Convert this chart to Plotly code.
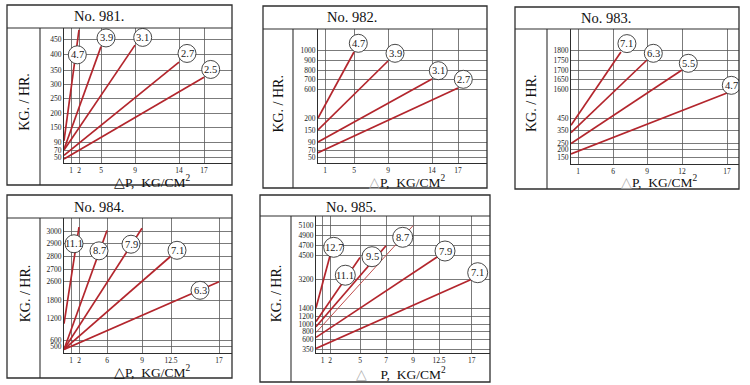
import numpy as np
import plotly.graph_objects as go

# ---------------- data ----------------
TITLES = ["No. 981.", "No. 982.", "No. 983.", "No. 984.", "No. 985."]
Y_TITLE = "KG. / HR."

X_TICKS_981 = [1, 2, 5, 9, 14, 17]
Y_TICKS_981 = [50, 70, 90, 150, 200, 250, 300, 350, 400, 450]
LABELS_981 = ["4.7", "3.9", "3.1", "2.7", "2.5"]
Y_START_981 = [95, 72, 70, 55, 44]
X_END_981 = [2, 5, 9, 14, 17]
Y_END_981 = [480, 425, 430, 375, 325]

X_TICKS_982 = [1, 5, 9, 14, 17]
Y_TICKS_982 = [50, 70, 90, 150, 200, 600, 700, 800, 900, 1000]
LABELS_982 = ["4.7", "3.9", "3.1", "2.7"]
Y_START_982 = [200, 150, 90, 62]
X_END_982 = [5, 9, 14, 17]
Y_END_982 = [980, 890, 700, 610]

X_TICKS_983 = [1, 6, 9, 12, 17]
Y_TICKS_983 = [150, 200, 250, 350, 450, 1600, 1650, 1700, 1750, 1800]
LABELS_983 = ["7.1", "6.3", "5.5", "4.7"]
Y_START_983 = [390, 330, 250, 170]
X_END_983 = [6.7, 9, 12, 17]
Y_END_983 = [1790, 1750, 1700, 1440]

X_TICKS_984 = [1, 2, 6, 9, 12.5, 17]
Y_TICKS_984 = [500, 600, 1200, 1800, 2600, 2700, 2800, 2900, 3000]
LABELS_984 = ["11.1", "8.7", "7.9", "7.1", "6.3"]
Y_START_984 = [1050, 460, 460, 460, 460]
X_END_984 = [2, 6, 9, 12.5, 17]
Y_END_984 = [3040, 3010, 3030, 2800, 2600]

X_TICKS_985 = [1, 2, 5, 7, 9, 12.5, 17]
Y_TICKS_985 = [350, 600, 800, 1000, 1200, 1400, 3200, 4500, 4700, 4900, 5100]
LABELS_985 = ["12.7", "11.1", "9.5", "8.7", "7.9", "7.1"]
Y_START_985 = [1420, 1060, 920, 760, 640, 370]
X_END_985 = [2, 5, 7, 9, 12.5, 17]
Y_END_985 = [4500, 4400, 4700, 5100, 4500, 3200]

# ---------------- layout geometry (page pixels) ----------------
W, H = 750, 385
RED = "#b3262d"
GRID = "#5a5a5a"
BORDER = "#2e2e2e"
TXT = "#222222"
SERIF = "Liberation Serif, Times New Roman, serif"

PANELS = [
    dict(title=TITLES[0], xt=X_TICKS_981, yt=Y_TICKS_981, lab=LABELS_981, ys=Y_START_981, xe=X_END_981, ye=Y_END_981,
         box=(7, 5, 232, 185), header=28, col=40, ax=64, ay=163,
         xpx=[71, 79, 101, 135, 179, 204],
         ypx=[157, 150, 142, 127.5, 113, 98.7, 84.3, 70, 54.3, 39],
         tpos=(98.7, 16), ytpos=(25, 101.7), xtpos=(151.7, 181.7), gray=False, r=9,
         off=[(-1.7, 25), (5, -8.7), (7.7, -7.7), (8, -8.7), (6.7, -7.7)]),
    dict(title=TITLES[1], xt=X_TICKS_982, yt=Y_TICKS_982, lab=LABELS_982, ys=Y_START_982, xe=X_END_982, ye=Y_END_982,
         box=(263, 6, 487, 188), header=29, col=293, ax=318, ay=163,
         xpx=[325, 354, 388, 432, 458],
         ypx=[157, 150, 142, 130, 118, 89, 79, 70, 60, 50],
         tpos=(352, 17.3), ytpos=(278.3, 103.3), xtpos=(407, 181.7), gray=True, r=9,
         off=[(4.3, -8.7), (7, -7.7), (6.3, -8.3), (5.3, -8.7)]),
    dict(title=TITLES[2], xt=X_TICKS_983, yt=Y_TICKS_983, lab=LABELS_983, ys=Y_START_983, xe=X_END_983, ye=Y_END_983,
         box=(515, 7, 739, 189), header=29, col=547, ax=571, ay=164,
         xpx=[578, 613, 647, 682, 727],
         ypx=[157, 149.5, 143.5, 130, 118, 89, 79, 70, 60, 50],
         tpos=(605.8, 18.3), ytpos=(531.7, 103.3), xtpos=(659, 181.7), gray=True, r=9,
         off=[(6, -8.4), (6.3, -6.7), (6.3, -6.7), (4.3, -7.7)]),
    dict(title=TITLES[3], xt=X_TICKS_984, yt=Y_TICKS_984, lab=LABELS_984, ys=Y_START_984, xe=X_END_984, ye=Y_END_984,
         box=(7, 195, 232, 378), header=218, col=40, ax=64, ay=353,
         xpx=[71, 79, 107, 142, 171, 219],
         ypx=[346.7, 340, 318.3, 300, 281.7, 269, 256, 243.3, 231.7],
         tpos=(99, 206.7), ytpos=(25, 293.3), xtpos=(152, 371.7), gray=False, r=9,
         off=[(-5, 16.7), (-8, 20.3), (-11, 16), (6, -5.7), (-19, 8.6)]),
    dict(title=TITLES[4], xt=X_TICKS_985, yt=Y_TICKS_985, lab=LABELS_985, ys=Y_START_985, xe=X_END_985, ye=Y_END_985,
         box=(260, 195, 490, 382), header=216, col=291, ax=316, ay=353,
         xpx=[322.7, 330, 360, 386, 413, 439, 471.7],
         ypx=[349.3, 339, 331, 324, 316, 308, 279.3, 255.7, 245.7, 235.7, 225.7],
         tpos=(351, 206.7), ytpos=(276, 293.3), xtpos=(400.7, 373.3), gray=True, r=10,
         off=[(3.7, -8.4), (-14.7, 17.7), (-14, 11), (-10.3, 11.6), (6, -4.7), (6, -6.6)]),
]


def interp_ext(v, xs, ys):
    xs = np.asarray(xs, float)
    ys = np.asarray(ys, float)
    if v < xs[0]:
        return ys[0] + (v - xs[0]) * (ys[1] - ys[0]) / (xs[1] - xs[0])
    if v > xs[-1]:
        return ys[-1] + (v - xs[-1]) * (ys[-1] - ys[-2]) / (xs[-1] - xs[-2])
    return float(np.interp(v, xs, ys))


def px(x):
    return x / W


def py(y):
    return 1 - y / H


fig = go.Figure()
shapes = []
annotations = []
layout_axes = {}

for i, p in enumerate(PANELS, start=1):
    xa = "x" if i == 1 else f"x{i}"
    ya = "y" if i == 1 else f"y{i}"
    bx0, by0, bx1, by1 = p["box"]

    xs_map = [0] + list(p["xt"])
    xp_map = [p["ax"]] + list(p["xpx"])

    def mx(v):
        return interp_ext(v, xs_map, xp_map)

    def my(v):
        return interp_ext(v, p["yt"], p["ypx"])

    # lines
    for k, lab in enumerate(p["lab"]):
        x0, y0 = mx(0), my(p["ys"][k])
        x1, y1 = mx(p["xe"][k]), my(p["ye"][k])
        thin = (i == 5 and lab == "8.7")
        fig.add_trace(go.Scatter(
            x=[x0, x1], y=[y0, y1], mode="lines", xaxis=xa, yaxis=ya,
            line=dict(color="#c0504f" if thin else RED, width=1.0 if thin else 1.7),
            hoverinfo="skip", showlegend=False))
        dx, dy = p["off"][k]
        cx, cy = x1 + dx, y1 + dy
        r = p["r"]
        shapes.append(dict(type="circle", xref=xa, yref=ya, xsizemode="pixel", ysizemode="pixel",
                           xanchor=cx, yanchor=cy, x0=-r, x1=r, y0=-r, y1=r,
                           fillcolor="white", line=dict(color="#333333", width=0.9), layer="above"))
        annotations.append(dict(x=cx, y=cy, xref=xa, yref=ya, text=lab, showarrow=False,
                                font=dict(family=SERIF, size=10.5, color="#1a1a1a"),
                                xanchor="center", yanchor="middle"))

    # axes
    layout_axes["xaxis" if i == 1 else f"xaxis{i}"] = dict(
        domain=[px(p["ax"]), px(bx1)], range=[p["ax"], bx1], anchor=ya,
        tickvals=p["xpx"], ticktext=[f"{v:g}" for v in p["xt"]], tickangle=0,
        showgrid=True, gridcolor=GRID, gridwidth=0.8, zeroline=False,
        showline=True, linecolor=BORDER, linewidth=1, ticks="",
        tickfont=dict(family=SERIF, size=7.5, color=TXT), automargin=False, fixedrange=True)
    layout_axes["yaxis" if i == 1 else f"yaxis{i}"] = dict(
        domain=[py(p["ay"]), py(p["header"])], range=[p["ay"], p["header"]], anchor=xa,
        tickvals=p["ypx"], ticktext=[f"{v:g}" for v in p["yt"]],
        showgrid=True, gridcolor=GRID, gridwidth=0.8, zeroline=False,
        showline=True, linecolor=BORDER, linewidth=1, ticks="",
        tickfont=dict(family=SERIF, size=7.5, color=TXT), automargin=False, fixedrange=True)

    # frame
    shapes.append(dict(type="rect", xref="paper", yref="paper", x0=px(bx0), x1=px(bx1), y0=py(by1), y1=py(by0),
                       line=dict(color=BORDER, width=1.3), fillcolor="rgba(0,0,0,0)", layer="above"))
    shapes.append(dict(type="line", xref="paper", yref="paper", x0=px(bx0), x1=px(bx1),
                       y0=py(p["header"]), y1=py(p["header"]), line=dict(color=BORDER, width=1.1)))
    shapes.append(dict(type="line", xref="paper", yref="paper", x0=px(p["col"]), x1=px(p["col"]),
                       y0=py(p["header"]), y1=py(by1), line=dict(color=BORDER, width=1.1)))

    # texts
    annotations.append(dict(x=px(p["tpos"][0]), y=py(p["tpos"][1]), xref="paper", yref="paper",
                            text=p["title"], showarrow=False, xanchor="center", yanchor="middle",
                            font=dict(family=SERIF, size=14.5, color="#111")))
    annotations.append(dict(x=px(p["ytpos"][0]), y=py(p["ytpos"][1]), xref="paper", yref="paper",
                            text=Y_TITLE, showarrow=False, xanchor="center", yanchor="middle", textangle=-90,
                            font=dict(family=SERIF, size=14, color="#111")))
    if i == 5:
        xt_text = "<span style='color:#b0b0b0'>△</span>\u00a0\u00a0\u00a0\u00a0P,\u00a0 KG/CM<sup>2</sup>"
    elif p["gray"]:
        xt_text = "<span style='color:#b0b0b0'>△</span>P,\u00a0 KG/CM<sup>2</sup>"
    else:
        xt_text = "△P,\u00a0 KG/CM<sup>2</sup>"
    annotations.append(dict(x=px(p["xtpos"][0]), y=py(p["xtpos"][1]), xref="paper", yref="paper",
                            text=xt_text, showarrow=False, xanchor="center", yanchor="middle",
                            font=dict(family=SERIF, size=13.5, color="#111")))

fig.update_layout(
    width=W, height=H, margin=dict(l=0, r=0, t=0, b=0),
    paper_bgcolor="white", plot_bgcolor="white", showlegend=False,
    shapes=shapes, annotations=annotations, **layout_axes)

fig.write_html("out.html",
               config={"displayModeBar": False, "staticPlot": True},
               post_script="document.body.style.margin='0';document.body.style.overflow='hidden';")
